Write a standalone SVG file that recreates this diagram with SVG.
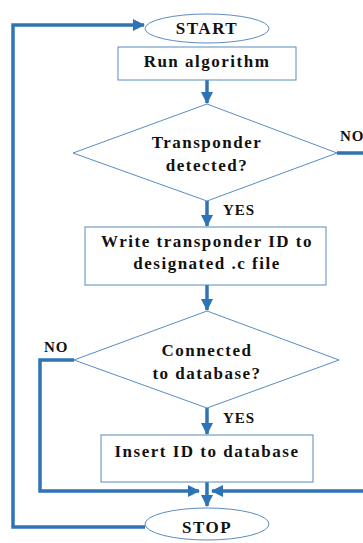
<svg xmlns="http://www.w3.org/2000/svg" width="363" height="543" viewBox="0 0 363 543">
<style>
.shape{fill:#fff;stroke:#5b8cc0;stroke-width:1}
.t{font-family:"Liberation Serif","Times New Roman",serif;font-weight:bold;font-size:17px;letter-spacing:1.5px;fill:#111;text-anchor:middle}
.lbl{font-family:"Liberation Serif","Times New Roman",serif;font-weight:bold;font-size:15px;letter-spacing:1px;fill:#111}
.c{fill:none;stroke:#2e74b5;stroke-width:3.5}
</style>
<defs>
<marker id="ah" markerUnits="userSpaceOnUse" markerWidth="12" markerHeight="12" viewBox="0 0 12 12" refX="11" refY="6" orient="auto">
<path d="M0,0 L12,6 L0,12 Z" fill="#2e74b5"/>
</marker>
</defs>
<rect width="363" height="543" fill="#fff"/>
<g id="connectors">
<path class="c" d="M207,80 V103" marker-end="url(#ah)"/>
<path class="c" d="M207,201 V226" marker-end="url(#ah)"/>
<path class="c" d="M207,285 V310" marker-end="url(#ah)"/>
<path class="c" d="M207,408 V434" marker-end="url(#ah)"/>
<path class="c" d="M207,482 V506" marker-end="url(#ah)"/>
<path class="c" d="M74,360 H40 V491 H199" marker-end="url(#ah)"/>
<path class="c" d="M337,153 H372 V491 H212" marker-end="url(#ah)"/>
<path class="c" d="M145,527 H13 V25 H144" marker-end="url(#ah)"/>
</g>
<g id="start">
<ellipse class="shape" cx="207" cy="28.5" rx="62" ry="14.5"/>
<text class="t" x="207" y="34">START</text>
</g>
<g id="run">
<rect class="shape" x="118" y="47" width="178" height="33"/>
<text class="t" x="207" y="67">Run algorithm</text>
</g>
<g id="detected">
<polygon class="shape" points="207,104 337,153 207,201 73,153"/>
<text class="t" x="207" y="148">Transponder</text>
<text class="t" x="207" y="171">detected?</text>
<text class="lbl" x="340" y="141">NO</text>
<text class="lbl" x="223" y="215">YES</text>
</g>
<g id="write">
<rect class="shape" x="85" y="227" width="241" height="58"/>
<text class="t" x="207" y="247">Write transponder ID to</text>
<text class="t" x="207" y="269">designated .c file</text>
</g>
<g id="connected">
<polygon class="shape" points="207,311 339,360 207,408 74,360"/>
<text class="t" x="207" y="356">Connected</text>
<text class="t" x="207" y="379">to database?</text>
<text class="lbl" x="44" y="352">NO</text>
<text class="lbl" x="223" y="423">YES</text>
</g>
<g id="insert">
<rect class="shape" x="101" y="435" width="212" height="47"/>
<text class="t" x="207" y="457">Insert ID to database</text>
</g>
<g id="stop">
<ellipse class="shape" cx="207" cy="524" rx="62" ry="16"/>
<text class="t" x="207" y="533">STOP</text>
</g>
</svg>
